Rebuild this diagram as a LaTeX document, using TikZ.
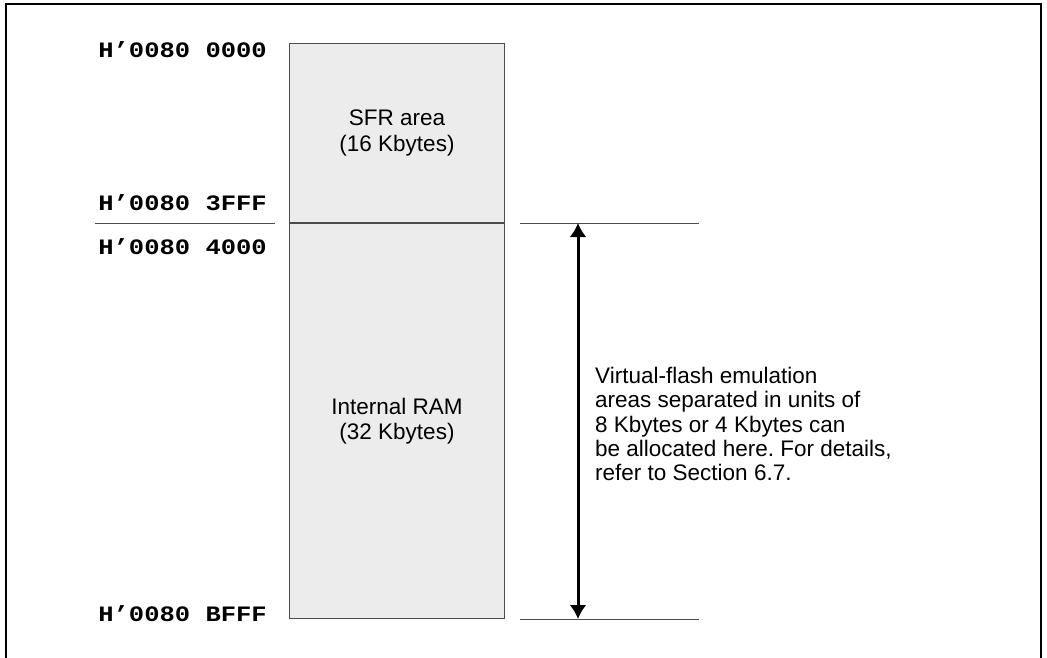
\documentclass[tikz,border=0pt]{standalone}
\usepackage{fontspec}
\setmainfont{Liberation Sans}
\newfontfamily\addrfont[FakeStretch=1.16]{Liberation Mono}
\usetikzlibrary{arrows.meta,positioning}
\frenchspacing

\begin{document}
\begin{tikzpicture}[x=1pt,y=-1pt,>={Latex[length=14pt,width=17pt]}]

\definecolor{areagray}{rgb}{0.925,0.925,0.925}
\definecolor{edgegray}{rgb}{0.3,0.3,0.3}

\tikzset{
  area/.style={draw=edgegray,fill=areagray,line width=1pt,minimum width=215pt,
    inner sep=0pt,align=center,font=\fontsize{22.5}{25.5}\selectfont},
  addr/.style={font=\addrfont\bfseries\fontsize{22}{24}\selectfont,inner sep=0pt,anchor=base east},
  guide/.style={draw=edgegray,line width=1pt}
}

\useasboundingbox (0,0) rectangle (1047,658);
\draw[line width=2pt] (6,658)--(6,4)--(1041,4)--(1041,658);

% memory areas
\node[area,minimum height=179pt,anchor=north west] (sfr) at (289,43) {SFR area\\(16 Kbytes)};
\node[area,minimum height=395pt,below=0pt of sfr] (ram) {Internal RAM\\(32 Kbytes)};

% addresses
\node[addr] (a0) at ([xshift=-22pt,yshift=-15pt]sfr.north west) {H’0080 0000};
\node[addr] (a1) at ([xshift=-22pt,yshift=13pt]sfr.south west) {H’0080 3FFF};
\node[addr] (a2) at ([xshift=-22pt,yshift=-31pt]ram.north west) {H’0080 4000};
\node[addr] (a3) at ([xshift=-22pt,yshift=-2pt]ram.south west) {H’0080 BFFF};

\coordinate (lg1) at ([xshift=-194pt]sfr.south west);
\coordinate (lg2) at ([xshift=-14pt]sfr.south west);
\draw[guide] (lg1)--(lg2);

\coordinate (rt1) at ([xshift=15pt]ram.north east);
\coordinate (rt2) at ([xshift=194pt]ram.north east);
\coordinate (rb1) at ([xshift=15pt]ram.south east);
\coordinate (rb2) at ([xshift=194pt]ram.south east);
\draw[guide] (rt1)--(rt2);
\draw[guide] (rb1)--(rb2);

\coordinate (top) at ([xshift=73pt]ram.north east);
\coordinate (bot) at ([xshift=73pt]ram.south east);
\draw[<->,line width=3pt] (top)--(bot);

\node[anchor=west,align=left,inner sep=0pt,font=\fontsize{22.5}{24.3}\selectfont] (note) at (595,424)
  {Virtual-flash emulation\\areas separated in units of\\8 Kbytes or 4 Kbytes can\\be allocated here. For details,\\refer to Section 6.7.};

\end{tikzpicture}
\end{document}
